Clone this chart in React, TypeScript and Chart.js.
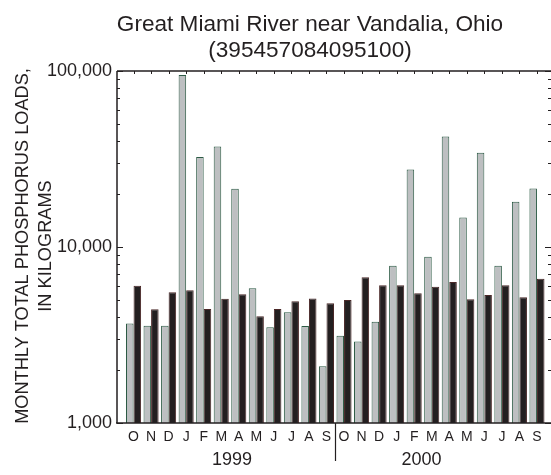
import React, { useEffect, useRef } from "react";
import { Chart, registerables } from "chart.js";

Chart.register(...registerables);

const monthLabels = ["O", "N", "D", "J", "F", "M", "A", "M", "J", "J", "A", "S", "O", "N", "D", "J", "F", "M", "A", "M", "J", "J", "A", "S"];
const loadsGray = [3680, 3570, 3570, 94900, 32500, 37300, 21400, 5820, 3500, 4260, 3560, 2100, 3130, 2900, 3760, 7830, 27600, 8810, 42400, 14700, 34300, 7830, 18100, 21500];
const loadsBlack = [6030, 4430, 5530, 5680, 4440, 5080, 5390, 4040, 4440, 4910, 5100, 4790, 5000, 6730, 6060, 6060, 5460, 5950, 6330, 5040, 5340, 6060, 5180, 6610];
const yTickValues = [1000, 10000, 100000];
const yearLabels = ["1999", "2000"];
const yearPositions = [5.61, 16.42];
const yearDivider = 11.5;
const titleLines = ["Great Miami River near Vandalia, Ohio", "(395457084095100)"];
const yTitleLines = ["MONTHLY TOTAL PHOSPHORUS LOADS,", "IN KILOGRAMS"];

const FONT = '"Liberation Sans", Arial, Helvetica, sans-serif';
const INK = "#231f20";

const decorPlugin = {
  id: "decor",
  afterDraw(chart: any) {
    const { ctx, chartArea } = chart;
    const x = chart.scales.x;
    const y = chart.scales.y;
    const { left, right, top, bottom } = chartArea;
    ctx.save();
    ctx.strokeStyle = INK;
    ctx.fillStyle = INK;
    ctx.lineWidth = 1.5;
    ctx.beginPath();
    ctx.moveTo(left, top);
    ctx.lineTo(left, bottom);
    ctx.moveTo(left - 1, bottom);
    ctx.lineTo(right, bottom);
    ctx.moveTo(left, top);
    ctx.lineTo(right, top);
    ctx.stroke();

    ctx.lineWidth = 1;
    ctx.beginPath();
    for (const d of [1000, 10000]) {
      for (let m = 2; m <= 9; m++) {
        const py = Math.round(y.getPixelForValue(m * d)) + 0.5;
        ctx.moveTo(left, py);
        ctx.lineTo(left + 3, py);
        ctx.moveTo(right, py);
        ctx.lineTo(right - 3, py);
      }
    }
    for (const v of yTickValues) {
      const py = Math.round(y.getPixelForValue(v)) + 0.5;
      ctx.moveTo(left, py);
      ctx.lineTo(left + 6, py);
      ctx.moveTo(right, py);
      ctx.lineTo(right - 6, py);
    }
    for (let i = 0; i < monthLabels.length; i++) {
      const px = Math.round(x.getPixelForValue(i)) + 0.5;
      ctx.moveTo(px, top);
      ctx.lineTo(px, top + 3);
    }
    ctx.stroke();

    ctx.lineWidth = 1.2;
    ctx.beginPath();
    const dx = Math.round(x.getPixelForValue(yearDivider)) + 0.5;
    ctx.moveTo(dx, bottom);
    ctx.lineTo(dx, 461);
    ctx.stroke();

    ctx.font = `18px ${FONT}`;
    ctx.textAlign = "center";
    ctx.textBaseline = "middle";
    yearLabels.forEach((t, i) => {
      ctx.fillText(t, x.getPixelForValue(yearPositions[i]), 460);
    });

    ctx.font = `22.6px ${FONT}`;
    ctx.textBaseline = "alphabetic";
    ctx.fillText(titleLines[0], 310, 31);
    ctx.fillText(titleLines[1], 310, 57);

    ctx.font = `18.2px ${FONT}`;
    const cy = (top + bottom) / 2 - 1;
    ctx.save();
    ctx.translate(28, cy);
    ctx.rotate(-Math.PI / 2);
    ctx.fillText(yTitleLines[0], 0, 0);
    ctx.restore();
    ctx.save();
    ctx.translate(50.5, cy);
    ctx.rotate(-Math.PI / 2);
    ctx.fillText(yTitleLines[1], 0, 0);
    ctx.restore();
    ctx.restore();
  },
};

export default function App() {
  const ref = useRef<HTMLCanvasElement | null>(null);
  useEffect(() => {
    document.body.style.margin = "0";
    const canvas = ref.current;
    if (!canvas) return;
    const chart = new Chart(canvas, {
      type: "bar",
      data: {
        datasets: [
          {
            label: "Gray",
            data: loadsGray.map((v, i) => ({ x: i, y: v })),
            backgroundColor: "#bdbfc1",
            borderColor: "#2c5a44",
            borderWidth: 1,
            categoryPercentage: 0.86,
            barPercentage: 1,
          },
          {
            label: "Black",
            data: loadsBlack.map((v, i) => ({ x: i, y: v })),
            backgroundColor: "#231f20",
            borderColor: "#4a2828",
            borderWidth: 1,
            categoryPercentage: 0.86,
            barPercentage: 1,
          },
        ],
      } as any,
      options: {
        animation: false,
        responsive: false,
        devicePixelRatio: 1,
        layout: { padding: { top: 71, right: 0, left: 0, bottom: 0 } },
        plugins: { legend: { display: false }, tooltip: { enabled: false }, title: { display: false } },
        scales: {
          x: {
            type: "linear",
            offset: false,
            min: -0.943,
            max: 23.8,
            grid: { display: false, drawTicks: false, offset: false },
            border: { display: false },
            afterBuildTicks: (scale: any) => {
              scale.ticks = monthLabels.map((_, i) => ({ value: i }));
            },
            afterFit: (scale: any) => {
              scale.height = 52;
            },
            ticks: {
              autoSkip: false,
              maxRotation: 0,
              padding: 6,
              color: INK,
              font: { family: FONT, size: 14 },
              callback: (v: any) => monthLabels[Number(v)] ?? "",
            },
          },
          y: {
            type: "logarithmic",
            min: 1000,
            max: 100000,
            grid: { display: false, drawTicks: false },
            border: { display: false },
            afterBuildTicks: (scale: any) => {
              scale.ticks = yTickValues.map((v) => ({ value: v, major: true }));
            },
            afterFit: (scale: any) => {
              scale.width = 117;
            },
            ticks: {
              autoSkip: false,
              padding: 5,
              color: INK,
              font: { family: FONT, size: 18 },
              callback: (v: any) => Number(v).toLocaleString("en-US"),
            },
          },
        },
      } as any,
      plugins: [decorPlugin],
    });
    return () => chart.destroy();
  }, []);
  return (
    <div style={{ width: 551, height: 475 }}>
      <canvas ref={ref} width={551} height={475} style={{ display: "block" }} />
    </div>
  );
}
